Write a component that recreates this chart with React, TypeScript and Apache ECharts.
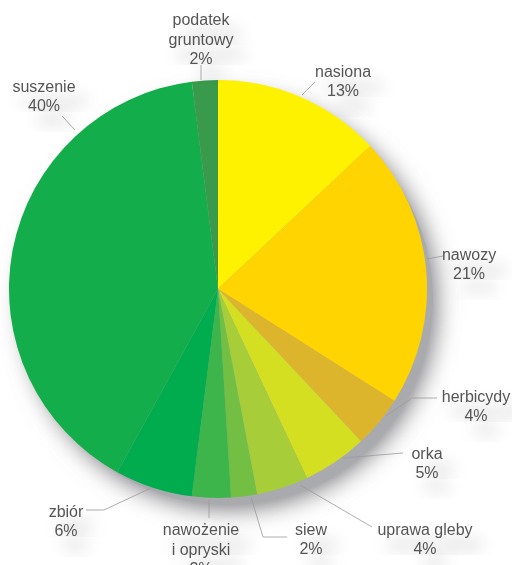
import React, { useEffect, useRef } from "react";
import * as echarts from "echarts";

const categories = [
  "nasiona",
  "nawozy",
  "herbicydy",
  "orka",
  "uprawa gleby",
  "siew",
  "nawożenie\ni opryski",
  "zbiór",
  "suszenie",
  "podatek\ngruntowy",
];
const values = [13, 21, 4, 5, 4, 2, 3, 6, 40, 2];
const colors = [
  "#FFF200",
  "#FFD400",
  "#DCB52C",
  "#D5DF22",
  "#A7CE39",
  "#72BF44",
  "#3DB54A",
  "#00AC4E",
  "#13AD4B",
  "#3A9A4B",
];

// label layout (text block centre + leader line points), purely cosmetic
const labelLayouts: { x: number; y: number; line: number[][] }[] = [
  { x: 343, y: 81, line: [[302, 95], [315, 82], [315, 82]] },
  { x: 469, y: 264, line: [[427, 259], [443, 256], [443, 256]] },
  { x: 476, y: 406, line: [[386, 416], [412, 398], [437, 398]] },
  { x: 427, y: 463, line: [[343, 458], [403, 453], [403, 453]] },
  { x: 425, y: 539, line: [[300, 485], [372, 527], [372, 527]] },
  { x: 311, y: 539, line: [[251, 497], [263, 537], [287, 537]] },
  { x: 201, y: 549, line: [[209, 500], [209, 518], [209, 518]] },
  { x: 66, y: 521, line: [[151, 488], [104, 510], [86, 510]] },
  { x: 44, y: 96, line: [[75, 130], [62, 116], [62, 116]] },
  { x: 201, y: 39, line: [[201, 80], [201, 65], [201, 65]] },
];

export default function App() {
  const ref = useRef<HTMLDivElement>(null);
  useEffect(() => {
    if (!ref.current) return;
    const chart = echarts.init(ref.current, undefined, { renderer: "svg" });
    const data = categories.map((name, i) => ({
      name,
      value: values[i],
      itemStyle: { color: colors[i] },
    }));
    chart.setOption({
      animation: false,
      backgroundColor: "#ffffff",
      series: [
        {
          type: "pie",
          silent: true,
          z: 1,
          center: [227, 299],
          radius: 206,
          startAngle: 90,
          label: { show: false },
          labelLine: { show: false },
          itemStyle: {
            color: "#a9aaae",
            shadowColor: "rgba(120,120,125,1)",
            shadowBlur: 24,
            shadowOffsetX: 3,
            shadowOffsetY: 4,
          },
          data: [{ value: 1, name: "" }],
        },
        {
          type: "pie",
          z: 2,
          center: [218, 289],
          radius: 209,
          startAngle: 90,
          clockwise: true,
          avoidLabelOverlap: false,
          itemStyle: { borderWidth: 0 },
          emphasis: { disabled: true },
          label: {
            show: true,
            position: "outside",
            formatter: (p: any) => `${p.name}\n${p.value}%`,
            color: "#555555",
            fontFamily: "'Liberation Sans', Arial, sans-serif",
            fontSize: 16,
            lineHeight: 19.5,
            align: "center",
            textShadowColor: "rgba(0,0,0,0.3)",
            textShadowBlur: 16,
            textShadowOffsetX: 10,
            textShadowOffsetY: 14,
          },
          labelLine: {
            show: true,
            lineStyle: { color: "#9a9a9a", width: 0.8 },
          },
          labelLayout: (params: any) => {
            const L = labelLayouts[params.dataIndex];
            return {
              x: L.x,
              y: L.y,
              align: "center",
              verticalAlign: "middle",
              labelLinePoints: L.line,
            };
          },
          data,
        },
      ],
    });
    return () => chart.dispose();
  }, []);
  return (
    <div
      ref={ref}
      style={{ position: "absolute", left: 0, top: 0, width: 512, height: 565 }}
    />
  );
}
